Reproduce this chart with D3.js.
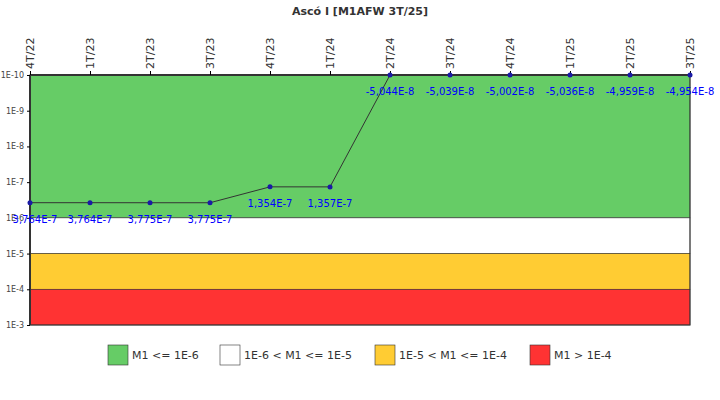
<!DOCTYPE html>
<html><head><meta charset="utf-8">
<script src="https://cdn.jsdelivr.net/npm/d3@7"></script>
<style>body{margin:0;background:#fff}</style></head><body>
<svg id="c" width="720" height="400"></svg>
<script>
const categories=["4T/22","1T/23","2T/23","3T/23","4T/23","1T/24","2T/24","3T/24","4T/24","1T/25","2T/25","3T/25"];
const values=[3.764e-7,3.764e-7,3.775e-7,3.775e-7,1.354e-7,1.357e-7,-5.044e-8,-5.039e-8,-5.002e-8,-5.036e-8,-4.959e-8,-4.954e-8];
const valueLabels=["3,764E-7","3,764E-7","3,775E-7","3,775E-7","1,354E-7","1,357E-7","-5,044E-8","-5,039E-8","-5,002E-8","-5,036E-8","-4,959E-8","-4,954E-8"];
const yTicks=[1e-10,1e-9,1e-8,1e-7,1e-6,1e-5,1e-4,1e-3];
const yTickLabels=["1E-10","1E-9","1E-8","1E-7","1E-6","1E-5","1E-4","1E-3"];
const bands=[[1e-10,1e-6],[1e-6,1e-5],[1e-5,1e-4],[1e-4,1e-3]];
const bandColors=["#66cc66","#ffffff","#ffcc33","#ff3333"];
const legendLabels=["M1 <= 1E-6","1E-6 < M1 <= 1E-5","1E-5 < M1 <= 1E-4","M1 > 1E-4"];

const svg=d3.select("#c");
const L=30,R=690,T=75,B=325;
const x=d3.scalePoint().domain(categories).range([L,R]);
const y=d3.scaleLog().domain([1e-10,1e-3]).range([T,B]);
svg.append("text").attr("x",360).attr("y",15).attr("text-anchor","middle")
 .attr("font-family","DejaVu Sans").attr("font-weight","bold").attr("font-size",11).attr("fill","#333").text("Ascó I [M1AFW 3T/25]");
svg.selectAll("rect.band").data(bands).enter().append("rect")
 .attr("x",L).attr("width",R-L).attr("y",d=>y(d[0])).attr("height",d=>y(d[1])-y(d[0]))
 .attr("fill",(d,i)=>bandColors[i]).attr("stroke","#333").attr("stroke-width",0.6);
svg.append("rect").attr("x",L).attr("y",T).attr("width",R-L).attr("height",B-T).attr("fill","none").attr("stroke","#333").attr("stroke-width",1);
svg.append("line").attr("x1",L).attr("x2",R).attr("y1",T).attr("y2",T).attr("stroke","#333").attr("stroke-width",2);
svg.append("line").attr("x1",L).attr("x2",L).attr("y1",T).attr("y2",B).attr("stroke","#333").attr("stroke-width",2);
const ya=svg.append("g").attr("transform",`translate(${L},0)`).call(d3.axisLeft(y).tickValues(yTicks).tickFormat((d,i)=>yTickLabels[i]).tickSize(3));
ya.select(".domain").remove();
ya.selectAll("text").attr("font-family","DejaVu Sans").attr("font-size",8).attr("fill","#444");
const xa=svg.append("g").attr("transform",`translate(0,${T})`).call(d3.axisTop(x).tickSize(4));
xa.select(".domain").remove();
xa.selectAll("text").attr("font-family","DejaVu Sans").attr("font-size",11).attr("fill","#333")
 .attr("transform","rotate(-90)").attr("text-anchor","start").attr("x",6).attr("y",0).attr("dy","0.35em");
const yv=v=>y(v>0?v:1e-10);
svg.append("path").datum(values).attr("fill","none").attr("stroke","#333").attr("stroke-width",1)
 .attr("d",d3.line().x((d,i)=>x(categories[i])).y(d=>yv(d)));
svg.selectAll("circle.p").data(values).enter().append("circle")
 .attr("cx",(d,i)=>x(categories[i])).attr("cy",d=>yv(d)).attr("r",2.5).attr("fill","#1a1aa6");
svg.selectAll("text.v").data(values).enter().append("text")
 .attr("x",(d,i)=>x(categories[i])+(i===0?5:0)).attr("y",d=>yv(d)+20).attr("text-anchor","middle")
 .attr("font-family","DejaVu Sans").attr("font-size",10).attr("fill","#0000ff").text((d,i)=>valueLabels[i]);
const lx=[108,220,375,530];
const lg=svg.selectAll("g.l").data(legendLabels).enter().append("g").attr("transform",(d,i)=>`translate(${lx[i]},345)`);
lg.append("rect").attr("width",20).attr("height",20).attr("fill",(d,i)=>bandColors[i]).attr("stroke","#333").attr("stroke-width",0.6);
lg.append("text").attr("x",24).attr("y",14).attr("font-family","DejaVu Sans").attr("font-size",11).attr("fill","#333").text(d=>d);
</script></body></html>
